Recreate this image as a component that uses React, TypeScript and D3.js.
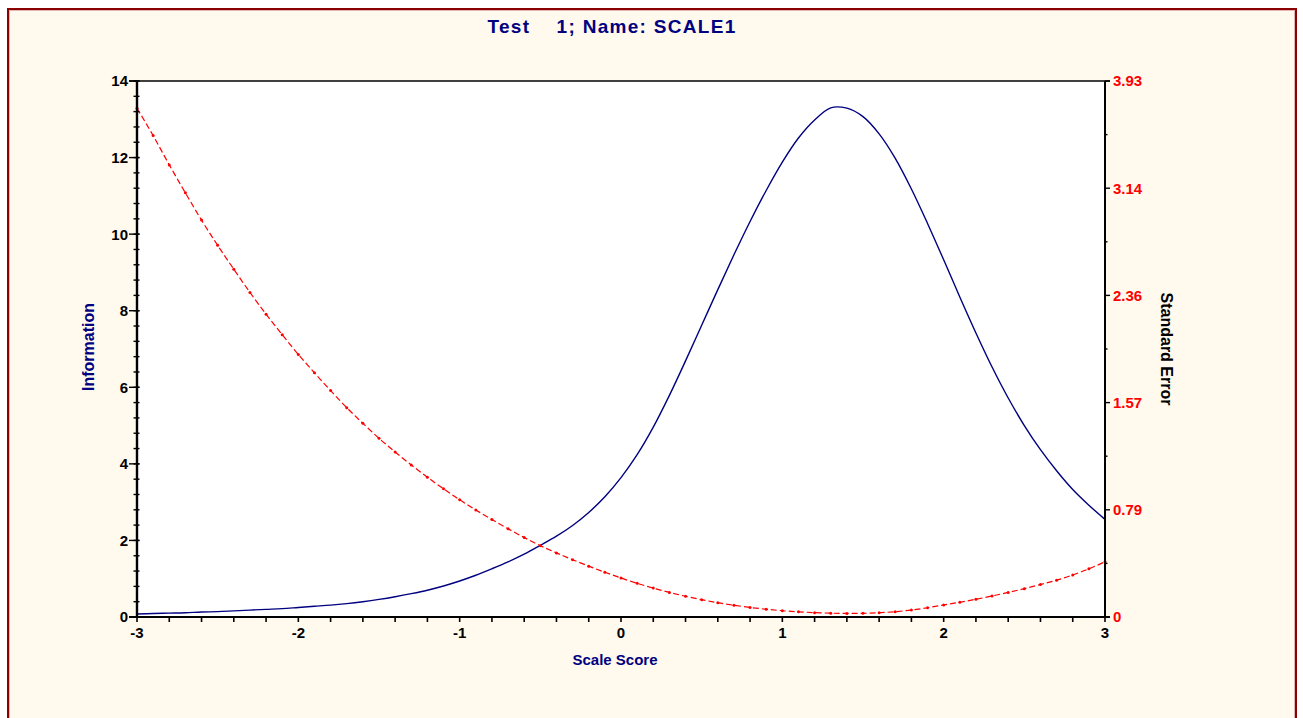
import React from "react";
import * as d3 from "d3";

// Scale score grid (theta), step 0.1 from -3 to 3
const theta: number[] = [
  -3.0, -2.9, -2.8, -2.7, -2.6, -2.5, -2.4, -2.3, -2.2, -2.1,
  -2.0, -1.9, -1.8, -1.7, -1.6, -1.5, -1.4, -1.3, -1.2, -1.1,
  -1.0, -0.9, -0.8, -0.7, -0.6, -0.5, -0.4, -0.3, -0.2, -0.1,
  0.0, 0.1, 0.2, 0.3, 0.4, 0.5, 0.6, 0.7, 0.8, 0.9,
  1.0, 1.1, 1.2, 1.3, 1.4, 1.5, 1.6, 1.7, 1.8, 1.9,
  2.0, 2.1, 2.2, 2.3, 2.4, 2.5, 2.6, 2.7, 2.8, 2.9, 3.0,
];

// Test information at each theta
const information: number[] = [
  0.08, 0.09, 0.10, 0.11, 0.13, 0.14, 0.16, 0.18, 0.20, 0.22,
  0.25, 0.28, 0.31, 0.35, 0.40, 0.46, 0.53, 0.61, 0.70, 0.81,
  0.94, 1.09, 1.26, 1.44, 1.64, 1.87, 2.11, 2.39, 2.73, 3.14,
  3.64, 4.24, 4.96, 5.79, 6.69, 7.62, 8.55, 9.46, 10.33, 11.14,
  11.88, 12.51, 12.98, 13.30, 13.29, 13.07, 12.62, 11.98, 11.18, 10.28,
  9.33, 8.36, 7.42, 6.53, 5.72, 5.00, 4.37, 3.82, 3.33, 2.92, 2.55,
];

// Standard error at each theta
const standardError: number[] = [
  3.73, 3.53, 3.315, 3.11, 2.91, 2.725, 2.55, 2.38, 2.22, 2.07,
  1.925, 1.79, 1.66, 1.535, 1.42, 1.31, 1.21, 1.115, 1.025, 0.94,
  0.86, 0.785, 0.715, 0.647, 0.583, 0.523, 0.47, 0.42, 0.373, 0.328,
  0.286, 0.247, 0.212, 0.18, 0.152, 0.127, 0.105, 0.086, 0.07, 0.057,
  0.046, 0.038, 0.032, 0.028, 0.026, 0.027, 0.031, 0.039, 0.051, 0.068,
  0.088, 0.108, 0.13, 0.154, 0.18, 0.208, 0.238, 0.27, 0.308, 0.353, 0.405,
];

const xTicks: number[] = [-3, -2, -1, 0, 1, 2, 3];
const leftTicks: number[] = [0, 2, 4, 6, 8, 10, 12, 14];
const rightTickLabels: string[] = ["0", "0.79", "1.57", "2.36", "3.14", "3.93"];
const seMax = 3.93;

const title = "Test    1; Name: SCALE1";
const xTitle = "Scale Score";
const leftTitle = "Information";
const rightTitle = "Standard Error";

const W = 1303;
const H = 718;
const plot = { left: 137, right: 1105, top: 81, bottom: 617 };

const NAVY = "#000080";
const RED = "#FF0000";
const FONT = "Arial, 'Liberation Sans', Helvetica, sans-serif";

export default function App() {
  const x = d3.scaleLinear().domain([-3, 3]).range([plot.left, plot.right]);
  const yL = d3.scaleLinear().domain([0, 14]).range([plot.bottom, plot.top]);
  const yR = d3.scaleLinear().domain([0, seMax]).range([plot.bottom, plot.top]);

  const infoLine = d3
    .line<number>()
    .x((_, i) => x(theta[i]))
    .y((d) => yL(d))
    .curve(d3.curveCatmullRom.alpha(0.5));

  const seLine = d3
    .line<number>()
    .x((_, i) => x(theta[i]))
    .y((d) => yR(d))
    .curve(d3.curveMonotoneX);

  const xMinor = d3.range(-3, 3.0001, 0.2).map((v) => +v.toFixed(2));
  const leftMinor = d3.range(0, 14.0001, 0.4).map((v) => +v.toFixed(2));
  const rightMajor = rightTickLabels.map((_, i) => (seMax * i) / 5);
  const rightMinor = rightMajor.slice(0, -1).map((v) => v + seMax / 10);

  return (
    <svg
      width={W}
      height={H}
      style={{ position: "absolute", left: 0, top: 0, background: "#ffffff" }}
      fontFamily={FONT}
    >
      {/* outer frame */}
      <rect x={8} y={9} width={1288} height={760} fill="#FFF9EE" stroke="#8B0000" strokeWidth={2} />
      <rect x={9.5} y={10.5} width={1285} height={760} fill="none" stroke="#E2B4B4" strokeWidth={1} />

      {/* plot area */}
      <rect
        x={plot.left}
        y={plot.top}
        width={plot.right - plot.left}
        height={plot.bottom - plot.top}
        fill="#ffffff"
      />

      {/* curves */}
      <path d={infoLine(information) || ""} fill="none" stroke={NAVY} strokeWidth={1.4} />
      <path
        d={seLine(standardError) || ""}
        fill="none"
        stroke={RED}
        strokeWidth={1.2}
        strokeDasharray="6,3"
      />
      {standardError.map((v, i) => (
        <circle key={i} cx={x(theta[i])} cy={yR(v)} r={1.5} fill={RED} />
      ))}

      {/* frame lines */}
      <line x1={plot.left - 8} x2={plot.right + 5} y1={plot.top} y2={plot.top} stroke="#000" strokeWidth={1.5} />
      <line x1={plot.left} x2={plot.left} y1={plot.top} y2={plot.bottom + 1} stroke="#000" strokeWidth={2.4} />
      <line x1={plot.right} x2={plot.right} y1={plot.top} y2={plot.bottom + 1} stroke="#000" strokeWidth={2} />
      <line x1={plot.left - 8} x2={plot.right + 5} y1={plot.bottom} y2={plot.bottom} stroke="#000" strokeWidth={2.2} />

      {/* bottom axis ticks */}
      {xMinor.map((v) => (
        <line key={"xm" + v} x1={x(v)} x2={x(v)} y1={plot.bottom} y2={plot.bottom + 5} stroke="#000" strokeWidth={1.6} />
      ))}
      {xTicks.map((v) => (
        <text
          key={"xt" + v}
          x={x(v)}
          y={638}
          textAnchor="middle"
          fontSize={15}
          fontWeight="bold"
          fill="#000"
        >
          {v}
        </text>
      ))}

      {/* left axis ticks */}
      {leftMinor.map((v) => (
        <line key={"lm" + v} x1={plot.left - 3.5} x2={plot.left + 2.5} y1={yL(v)} y2={yL(v)} stroke="#000" strokeWidth={1.4} />
      ))}
      {leftTicks.map((v) => (
        <g key={"lt" + v}>
          <line x1={plot.left - 8} x2={plot.left + 2.5} y1={yL(v)} y2={yL(v)} stroke="#000" strokeWidth={1.4} />
          <text
            x={plot.left - 9}
            y={yL(v)}
            dy="0.36em"
            textAnchor="end"
            fontSize={15}
            fontWeight="bold"
            fill="#000"
          >
            {v}
          </text>
        </g>
      ))}

      {/* right axis ticks */}
      {rightMinor.map((v, i) => (
        <line key={"rm" + i} x1={plot.right} x2={plot.right + 2.5} y1={yR(v)} y2={yR(v)} stroke="#000" strokeWidth={1.4} />
      ))}
      {rightMajor.map((v, i) => (
        <g key={"rt" + i}>
          <line x1={plot.right} x2={plot.right + 5} y1={yR(v)} y2={yR(v)} stroke="#000" strokeWidth={1.4} />
          <text
            x={plot.right + 8}
            y={yR(v)}
            dy="0.36em"
            textAnchor="start"
            fontSize={15}
            fontWeight="bold"
            fill={RED}
          >
            {rightTickLabels[i]}
          </text>
        </g>
      ))}

      {/* titles */}
      <text
        x={612}
        y={33}
        textAnchor="middle"
        fontSize={19}
        fontWeight="bold"
        fill={NAVY}
        style={{ whiteSpace: "pre" }}
        letterSpacing={1.3}
      >
        {title}
      </text>
      <text x={615} y={665} textAnchor="middle" fontSize={15} fontWeight="bold" fill={NAVY}>
        {xTitle}
      </text>
      <text
        transform="translate(94,347) rotate(-90)"
        textAnchor="middle"
        fontSize={16}
        fontWeight="bold"
        fill={NAVY}
      >
        {leftTitle}
      </text>
      <text
        transform="translate(1161,349) rotate(90)"
        textAnchor="middle"
        fontSize={16}
        fontWeight="bold"
        fill="#000"
      >
        {rightTitle}
      </text>
    </svg>
  );
}
